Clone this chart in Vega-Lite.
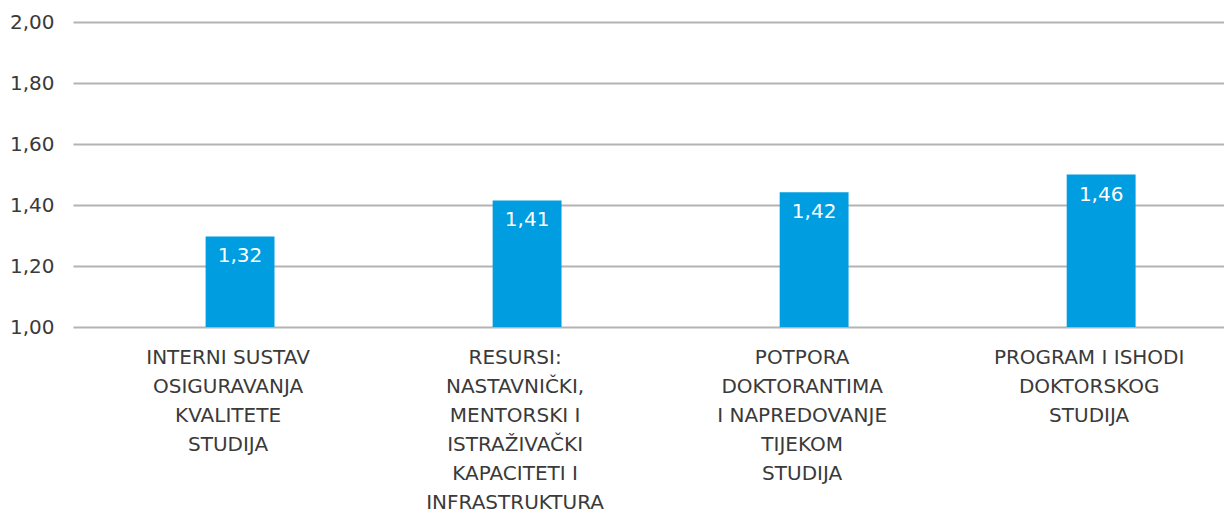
{
  "$schema": "https://vega.github.io/schema/vega-lite/v6.json",
  "width": 1151,
  "height": 305,
  "autosize": {"type": "none"},
  "padding": {"left": 73, "top": 22, "right": 0, "bottom": 186},
  "background": "white",
  "config": {
    "view": {"stroke": null},
    "font": "DejaVu Sans",
    "axis": {"labelFont": "DejaVu Sans", "labelFontWeight": "normal", "labelColor": "#3a3a3a"}
  },
  "data": {
    "values": [
      {"category": "INTERNI SUSTAV|OSIGURAVANJA|KVALITETE|STUDIJA", "value": 1.297, "label": "1,32"},
      {"category": "RESURSI:|NASTAVNIČKI,|MENTORSKI I|ISTRAŽIVAČKI|KAPACITETI I|INFRASTRUKTURA", "value": 1.415, "label": "1,41"},
      {"category": "POTPORA|DOKTORANTIMA|I NAPREDOVANJE|TIJEKOM|STUDIJA", "value": 1.442, "label": "1,42"},
      {"category": "PROGRAM I ISHODI|DOKTORSKOG|STUDIJA", "value": 1.5, "label": "1,46"}
    ]
  },
  "encoding": {
    "x": {
      "field": "category",
      "type": "nominal",
      "sort": null,
      "scale": {"paddingInner": 0.76, "paddingOuter": 0.385, "align": 0.6},
      "axis": {
        "title": null,
        "labelAngle": 0,
        "domain": false,
        "ticks": false,
        "labelPadding": 20,
        "labelFontSize": 20,
        "labelLineHeight": 29,
        "labelOffset": -12,
        "labelLimit": 400,
        "labelExpr": "split(datum.value, '|')"
      }
    },
    "y": {
      "field": "value",
      "type": "quantitative",
      "scale": {"domain": [1, 2], "zero": false, "nice": false},
      "axis": {
        "title": null,
        "values": [1, 1.2, 1.4, 1.6, 1.8, 2],
        "domain": false,
        "ticks": false,
        "grid": true,
        "gridColor": "#b3b3b3",
        "gridWidth": 2,
        "labelPadding": 19,
        "labelFontSize": 20,
        "labelExpr": "replace(format(datum.value, '.2f'), '.', ',')"
      }
    }
  },
  "layer": [
    {"mark": {"type": "bar", "color": "#009EE0"}, "encoding": {"y2": {"datum": 1}}},
    {
      "mark": {"type": "text", "color": "white", "fontSize": 20, "font": "DejaVu Sans", "baseline": "middle", "dy": 20},
      "encoding": {"text": {"field": "label"}}
    }
  ]
}
